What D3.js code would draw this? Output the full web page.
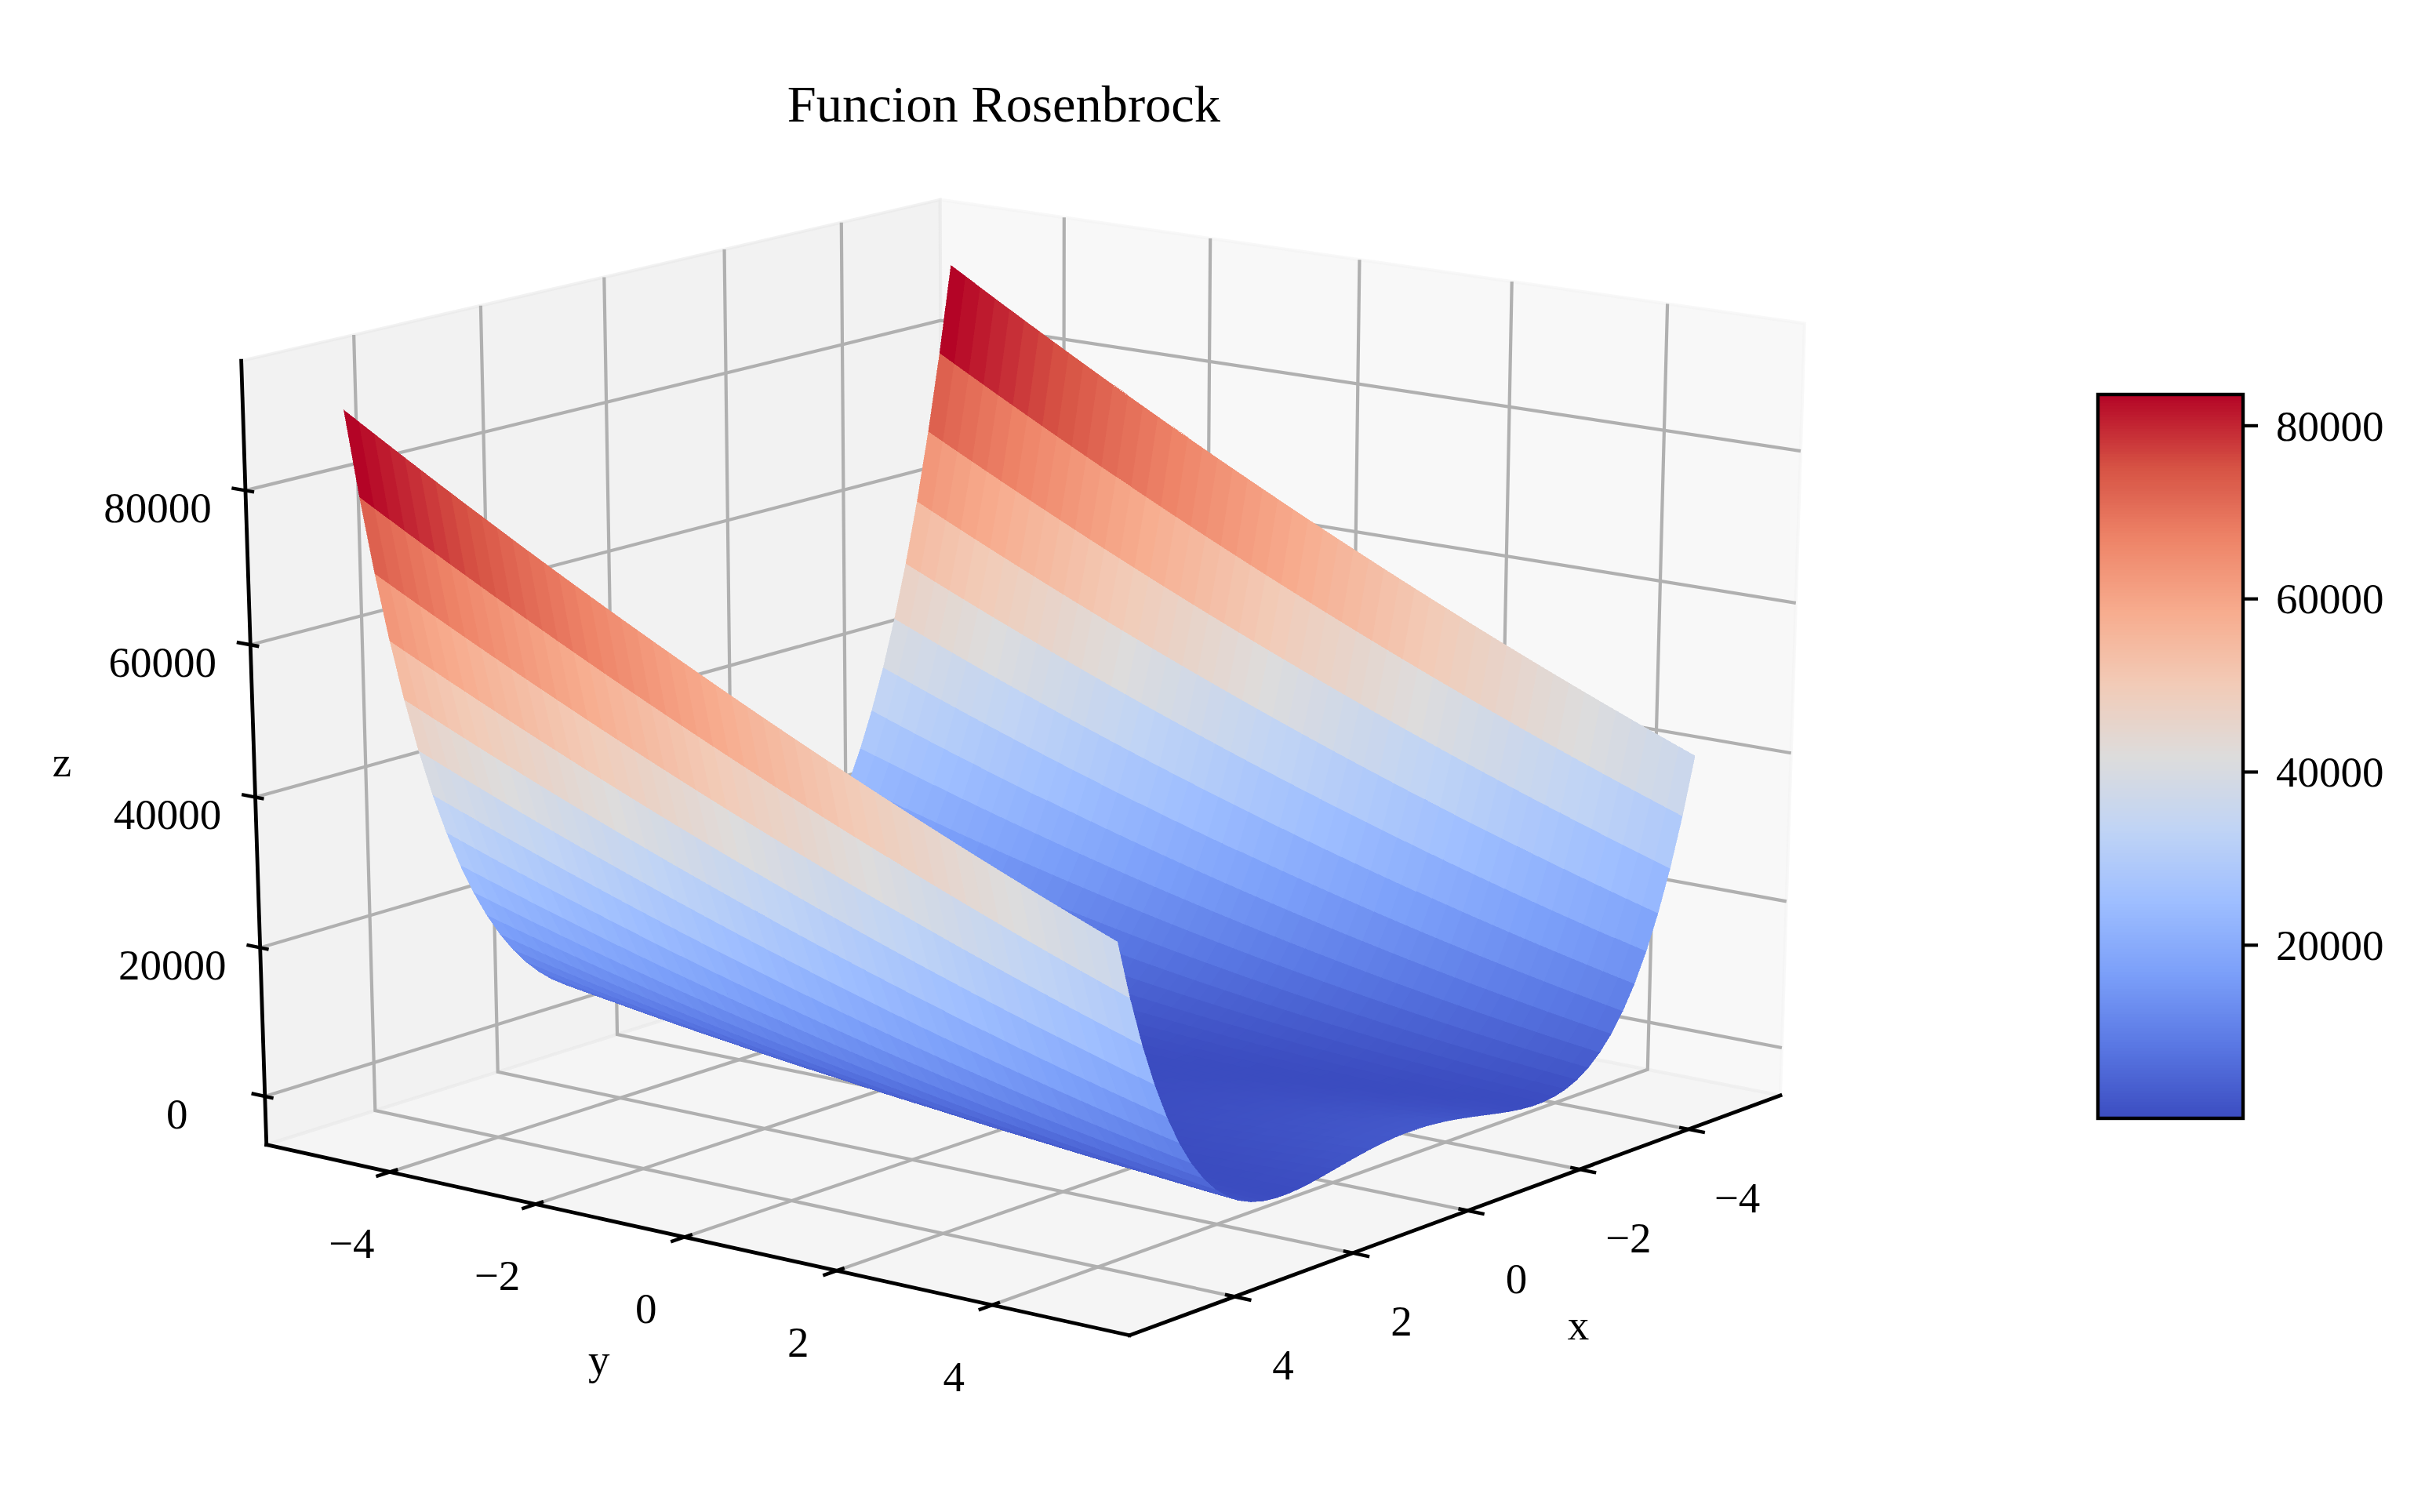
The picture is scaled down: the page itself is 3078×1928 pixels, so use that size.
<!DOCTYPE html>
<html><head><meta charset="utf-8">
<script src="https://cdn.jsdelivr.net/npm/d3@7/dist/d3.min.js"></script>
<style>html,body{margin:0;padding:0;background:#fff}svg{display:block}text{font-family:"Liberation Serif","Times New Roman",serif;fill:#000}</style>
</head><body><svg id="c" width="3078" height="1928"></svg>
<script>
const title = "Funcion Rosenbrock";
const xMagnitudes = [5,4.796,4.592,4.388,4.184,3.98,3.776,3.571,3.367,3.163,2.959,2.755,2.551,2.347,2.143,1.939,1.735,1.531,1.327,1.122,.918,.714,.51,.306,.102];
const yGrid = [-5,-4.796,-4.592,-4.388,-4.184,-3.98,-3.776,-3.571,-3.367,-3.163,-2.959,-2.755,-2.551,-2.347,-2.143,-1.939,-1.735,-1.531,-1.327,-1.122,-.918,-.714,-.51,-.306,-.102,.102,.306,.51,.714,.918,1.122,1.327,1.531,1.735,1.939,2.143,2.347,2.551,2.755,2.959,3.163,3.367,3.571,3.776,3.98,4.184,4.388,4.592,4.796,5];
// surface heights read per |x| row (the two halves of the valley are visually identical)
const zRows = [
[90000,88780,87568,86364,85169,83982,82803,81633,80471,79317,78172,77035,75906,74786,73674,72570,71475,70388,69309,68239,67177,66123,65078,64041,63012,61992,60980,59976,58981,57994,57015,56045,55083,54129,53184,52247,51318,50398,49486,48582,47687,46800,45921,45051,44189,43335,42490,41653,40824,40004],
[78406,77267,76137,75015,73901,72796,71699,70610,69530,68458,67394,66339,65292,64253,63223,62201,61187,60182,59185,58196,57216,56244,55280,54325,53378,52439,51509,50587,49673,48768,47871,46982,46102,45230,44366,43511,42664,41825,40995,40173,39359,38554,37757,36968,36188,35416,34652,33897,33150,32411],
[68043,66982,65930,64886,63851,62824,61805,60794,59792,58798,57813,56836,55867,54906,53954,53010,52075,51148,50229,49318,48416,47522,46637,45760,44891,44030,43178,42334,41499,40672,39853,39042,38240,37446,36661,35884,35115,34354,33602,32858,32123,31396,30677,29966,29264,28570,27885,27208,26539,25878],
[58821,57835,56858,55889,54928,53976,53032,52096,51169,50250,49339,48437,47543,46657,45780,44911,44050,43198,42354,41518,40691,39872,39061,38259,37465,36679,35902,35133,34372,33620,32876,32140,31413,30694,29983,29281,28587,27901,27224,26555,25894,25242,24598,23962,23335,22716,22105,21503,20909,20323],
[50639,49725,48819,47921,47032,46151,45278,44414,43558,42710,41871,41040,40217,39403,38597,37799,37010,36229,35456,34692,33936,33188,32449,31718,30995,30281,29575,28877,28188,27507,26834,26170,25514,24866,24227,23596,22973,22359,21753,21155,20566,19985,19412,18848,18292,17744,17205,16674,16151,15637],
[43418,42572,41734,40904,40083,39270,38465,37669,36881,36101,35330,34567,33812,33066,32328,31598,30877,30164,29459,28763,28075,27395,26724,26061,25406,24760,24122,23492,22871,22258,21653,21057,20469,19889,19318,18755,18200,17654,17116,16586,16065,15552,15047,14551,14063,13583,13112,12649,12194,11748],
[37072,36290,35517,34752,33995,33247,32507,31775,31052,30337,29630,28932,28242,27560,26887,26222,25565,24917,24277,23645,23022,22407,21800,21202,20612,20030,19457,18892,18335,17787,17247,16715,16192,15677,15170,14672,14182,13700,13227,12762,12305,11857,11417,10985,10562,10147,9740,9342,8952,8570],
[31524,30804,30091,29387,28692,28005,27326,26655,25993,25339,24694,24057,23428,22807,22195,21591,20996,20409,19830,19259,18697,18143,17598,17061,16532,16011,15499,14995,14500,14013,13534,13063,12601,12147,11702,11265,10836,10415,10003,9599,9204,8817,8438,8067,7705,7351,7006,6669,6340,6019],
[26696,26033,25379,24733,24095,23466,22845,22232,21628,21032,20444,19865,19294,18731,18177,17631,17093,16564,16043,15530,15026,14530,14042,13563,13092,12629,12175,11729,11291,10862,10441,10028,9624,9228,8840,8461,8090,7727,7373,7027,6689,6360,6039,5726,5422,5126,4838,4559,4288,4025],
[22518,21910,21310,20718,20135,19560,18993,18435,17885,17343,16810,16285,15768,15260,14760,14268,13785,13310,12843,12385,11935,11493,11060,10635,10218,9810,9410,9018,8635,8260,7893,7535,7185,6843,6510,6185,5868,5560,5260,4968,4685,4410,4143,3885,3635,3393,3160,2935,2718,2510],
[18926,18369,17820,17279,16747,16223,15707,15200,14701,14210,13728,13254,12788,12331,11882,11441,11009,10585,10169,9762,9363,8972,8590,8216,7850,7493,7144,6803,6471,6147,5831,5524,5225,4934,4652,4378,4112,3855,3606,3365,3133,2909,2693,2486,2287,2096,1914,1740,1574,1417],
[15853,15343,14842,14349,13864,13388,12920,12460,12009,11566,11131,10705,10287,9877,9476,9083,8698,8322,7954,7594,7243,6900,6565,6239,5921,5611,5310,5017,4732,4456,4188,3928,3677,3434,3199,2973,2755,2545,2344,2151,1966,1790,1622,1462,1311,1168,1033,907,789,679],
[13243,12778,12321,11872,11431,10999,10575,10160,9753,9354,8963,8581,8207,7842,7485,7136,6795,6463,6139,5824,5517,5218,4927,4645,4371,4106,3849,3600,3359,3127,2903,2688,2481,2282,2091,1909,1735,1570,1413,1264,1123,991,867,752,645,546,455,373,299,233],
[11042,10617,10201,9793,9393,9002,8619,8244,7878,7520,7170,6829,6496,6171,5855,5547,5247,4956,4673,4398,4132,3874,3624,3383,3150,2925,2709,2501,2301,2110,1927,1752,1586,1428,1278,1137,1004,879,763,655,555,464,381,306,240,182,132,91,58,30],
[9201,8814,8435,8064,7702,7348,7002,6665,6336,6015,5703,5399,5103,4816,4537,4266,4004,3750,3504,3267,3038,2817,2605,2401,2205,2018,1839,1668,1506,1352,1206,1069,940,819,707,603,507,420,341,270,208,154,108,71,42,17,5,0,4,17],
[7672,7319,6974,6637,6309,5989,5677,5374,5079,4792,4514,4244,3982,3729,3484,3247,3019,2799,2587,2384,2189,2002,1824,1654,1492,1339,1194,1057,929,809,697,594,499,412,334,264,202,149,104,67,39,19,7,4,9,22,44,74,112,159],
[6414,6091,5777,5471,5173,4884,4603,4330,4066,3810,3562,3323,3092,2869,2655,2449,2251,2062,1881,1708,1544,1388,1240,1101,970,847,733,627,529,440,359,286,222,166,118,79,48,25,11,5,7,18,37,64,100,144,196,257,326,403],
[5392,5096,4809,4530,4260,3998,3744,3498,3261,3032,2812,2600,2396,2200,2013,1834,1664,1502,1348,1202,1065,936,816,704,600,504,417,338,268,206,152,106,69,40,20,8,4,9,22,43,72,110,156,211,274,345,424,512,608,713],
[4570,4298,4035,3780,3533,3295,3065,2843,2630,2425,2228,2040,1860,1688,1525,1370,1223,1085,955,833,720,615,518,430,350,278,215,160,113,75,45,23,10,5,8,20,40,68,105,150,203,265,335,413,500,595,698,810,930,1058],
[3919,3668,3425,3190,2964,2746,2536,2335,2142,1957,1781,1613,1453,1302,1159,1024,898,780,670,569,476,391,315,247,187,136,93,58,32,14,4,3,10,25,49,81,121,170,227,292,366,448,538,637,744,859,983,1115,1255,1404],
[3414,3180,2954,2736,2527,2326,2133,1949,1773,1605,1446,1295,1152,1018,892,774,665,564,471,387,311,243,184,133,90,56,30,12,3,2,9,25,49,81,122,171,228,294,368,450,541,640,747,863,987,1119,1260,1409,1566,1732],
[3036,2815,2603,2399,2203,2016,1837,1666,1504,1350,1204,1067,938,817,705,601,505,418,339,268,206,152,106,69,40,19,7,3,7,20,41,70,108,154,208,271,342,421,509,605,709,822,943,1072,1210,1356,1510,1673,1844,2023],
[2767,2556,2354,2160,1975,1798,1629,1468,1316,1172,1037,910,791,680,578,484,399,322,253,192,140,96,61,34,15,4,2,8,23,46,77,116,164,220,285,358,439,528,626,732,847,970,1101,1240,1388,1544,1709,1882,2063,2252],
[2595,2391,2196,2009,1830,1660,1498,1344,1199,1062,933,813,701,597,502,415,336,266,204,150,105,68,39,19,7,3,8,21,42,72,110,156,211,274,345,425,513,609,714,827,948,1078,1216,1362,1517,1680,1851,2031,2219,2415],
[2510,2310,2118,1934,1759,1592,1433,1283,1141,1007,882,765,656,556,464,380,305,238,179,129,87,53,28,11,2,2,10,26,51,84,125,175,233,299,374,457,548,648,756,872,997,1130,1271,1421,1579,1745,1920,2103,2294,2494]
];
const axisTicks = [-4,-2,0,2,4];
const axisTickLabels = ["\u22124","\u22122","0","2","4"];
const zTicks = [0,20000,40000,60000,80000];
const zTickLabels = ["0","20000","40000","60000","80000"];
const cbarTicks = [20000,40000,60000,80000];
const cbarTickLabels = ["20000","40000","60000","80000"];
const coolwarmStops = ["#3b4cc0","#5977e3","#7b9ff9","#9ebeff","#c0d4f5","#dddcdc","#f2cbb7","#f7ac8e","#ee8468","#d65244","#b40426"];
const viewElev = 18, viewAzim = 38, viewDist = 10;

const xGrid = [...xMagnitudes.map(v=>-v), ...xMagnitudes.slice().reverse()];
const zTable = [...zRows, ...zRows.slice().reverse()];

const svg = d3.select("#c");
// --- 3D projection
const wx = d3.scaleLinear().domain([-5.5,5.5]).range([-.5,.5]);
const wy = d3.scaleLinear().domain([-5.5,5.5]).range([-.5,.5]);
const wz = d3.scaleLinear().domain([-4500,94538]).range([-.5,.5]);
const rad = Math.PI/180, ce=Math.cos(viewElev*rad), se=Math.sin(viewElev*rad), ca=Math.cos(viewAzim*rad), sa=Math.sin(viewAzim*rad);
const n=[ce*ca,ce*sa,se], u=[-sa,ca,0], v=[-se*ca,-se*sa,ce];
const dot=(a,b)=>a[0]*b[0]+a[1]*b[1]+a[2]*b[2];
const sx=d3.scaleLinear().domain([0,1]).range([1313,1313+13413]);
const sy=d3.scaleLinear().domain([0,1]).range([940,940-10010]);
function view(x,y,z){const p=[wx(x),wy(y),wz(z)];const d=viewDist-dot(p,n);return {X:sx(dot(p,u)/d),Y:sy(dot(p,v)/d),d};}
const P=(x,y,z)=>{const q=view(x,y,z);return [q.X,q.Y];};
const line=d3.line();
// pane bounds
const pad=11/48, xa=-5.5-pad, xb=5.5+pad, za=-4500-99038/48, zb=94538+99038/48;
// --- panes
const panes=[
 {c:[[xa,xa,za],[xa,xb,za],[xa,xb,zb],[xa,xa,zb]],g:.95},
 {c:[[xa,xa,za],[xb,xa,za],[xb,xa,zb],[xa,xa,zb]],g:.90},
 {c:[[xa,xa,za],[xb,xa,za],[xb,xb,za],[xa,xb,za]],g:.925}];
svg.append("g").selectAll("path").data(panes).join("path")
 .attr("d",p=>line(p.c.map(c=>P(...c)))+"Z")
 .attr("fill",p=>d3.rgb(p.g*255,p.g*255,p.g*255)).attr("fill-opacity",.5)
 .attr("stroke",p=>d3.rgb(p.g*255,p.g*255,p.g*255)).attr("stroke-opacity",.5).attr("stroke-width",4);
// --- grid
const grid=[];
axisTicks.forEach(t=>{grid.push([[t,xb,za],[t,xa,za],[t,xa,zb]]);grid.push([[xb,t,za],[xa,t,za],[xa,t,zb]]);});
zTicks.forEach(t=>grid.push([[xb,xa,t],[xa,xa,t],[xa,xb,t]]));
svg.append("g").selectAll("path").data(grid).join("path")
 .attr("d",g=>line(g.map(c=>P(...c)))).attr("fill","none").attr("stroke","#b0b0b0").attr("stroke-width",4.2);
// --- axes lines
const axes=[[[xb,xa,za],[xb,xb,za]],[[xb,xb,za],[xa,xb,za]],[[xb,xa,za],[xb,xa,zb]]];
svg.append("g").selectAll("path").data(axes).join("path")
 .attr("d",g=>line(g.map(c=>P(...c)))).attr("fill","none").attr("stroke","#000").attr("stroke-width",4.8).attr("stroke-linecap","square");
// --- ticks
const tickG=svg.append("g").attr("stroke","#000").attr("stroke-width",4.4).attr("fill","none");
const yTickSeg=t=>[[xb+.22,t,za],[xb-.125,t,za]];
const xTickSeg=t=>[[t,xb+.21,za],[t,xb-.12,za]];
const zTickSeg=t=>[[xb,xa-.19,t],[xb,xa+.12,t]];
tickG.selectAll(".ty").data(axisTicks).join("path").attr("d",t=>line(yTickSeg(t).map(c=>P(...c))));
tickG.selectAll(".tx").data(axisTicks).join("path").attr("d",t=>line(xTickSeg(t).map(c=>P(...c))));
tickG.selectAll(".tz").data(zTicks).join("path").attr("d",t=>line(zTickSeg(t).map(c=>P(...c))));
// --- colour
const cells=[];
for(let i=0;i<xGrid.length-1;i++)for(let j=0;j<yGrid.length-1;j++){
 const cs=[[i,j],[i+1,j],[i+1,j+1],[i,j+1]].map(([a,b])=>view(xGrid[a],yGrid[b],zTable[a][b]));
 cells.push({pts:cs.map(q=>[q.X,q.Y]),d:d3.mean(cs,q=>q.d),val:(zTable[i][j]+zTable[i+1][j]+zTable[i+1][j+1]+zTable[i][j+1])/4});
}
const [vmin,vmax]=d3.extent(cells,c=>c.val);
const cmap=d3.scaleLinear().domain(d3.range(11).map(i=>i/10)).range(coolwarmStops).interpolate(d3.interpolateRgb);
const norm=d3.scaleLinear().domain([vmin,vmax]).range([0,1]);
cells.sort((a,b)=>b.d-a.d);
svg.append("g").attr("shape-rendering","crispEdges").selectAll("path").data(cells).join("path")
 .attr("d",c=>line(c.pts)+"Z").attr("fill",c=>cmap(norm(c.val))).attr("stroke",c=>cmap(norm(c.val))).attr("stroke-width",.6);
// --- tick labels
const fs=55;
const lab=svg.append("g").attr("font-size",fs).attr("text-anchor","middle");
axisTicks.forEach((t,i)=>{const a=P(t,xb,za);lab.append("text").attr("x",a[0]+62).attr("y",a[1]+87).attr("dy",".34em").text(axisTickLabels[i]);
 const b=P(xb,t,za);lab.append("text").attr("x",b[0]-49).attr("y",b[1]+91).attr("dy",".34em").text(axisTickLabels[i]);});
zTicks.forEach((t,i)=>{const a=P(xb,xa,t);lab.append("text").attr("x",a[0]-112).attr("y",a[1]+22).attr("dy",".34em").text(zTickLabels[i]);});
// axis labels
const xm=P(0,xb,za), ym=P(xb,0,za), zm=P(xb,xa,(za+zb)/2);
lab.append("text").attr("x",xm[0]+141).attr("y",xm[1]+164).text("x");
lab.append("text").attr("x",ym[0]-109).attr("y",ym[1]+175).text("y");
lab.append("text").attr("x",zm[0]-245).attr("y",zm[1]+22).text("z");
svg.append("text").attr("x",1280).attr("y",155).attr("text-anchor","middle").attr("font-size",66.5).text(title);
// --- colourbar
const cbY=d3.scaleLinear().domain([vmin,vmax]).range([1426,503]);
const cb=svg.append("g");
const levels=d3.range(256);
cb.append("g").attr("shape-rendering","crispEdges").selectAll("rect").data(levels).join("rect")
 .attr("x",2675).attr("width",185)
 .attr("y",l=>cbY(vmin+(l+1)/256*(vmax-vmin))).attr("height",(1426-503)/256+.6)
 .attr("fill",l=>cmap((l+.5)/256));
cb.append("rect").attr("x",2675).attr("y",503).attr("width",185).attr("height",923).attr("fill","none").attr("stroke","#000").attr("stroke-width",4.4);
cb.selectAll(".t").data(cbarTicks).join("line").attr("x1",2860).attr("x2",2879).attr("y1",cbY).attr("y2",cbY).attr("stroke","#000").attr("stroke-width",4.2);
cb.selectAll("text").data(cbarTicks).join("text").attr("x",2902).attr("y",cbY).attr("dy",".34em").attr("font-size",fs).text((d,i)=>cbarTickLabels[i]);
</script></body></html>
